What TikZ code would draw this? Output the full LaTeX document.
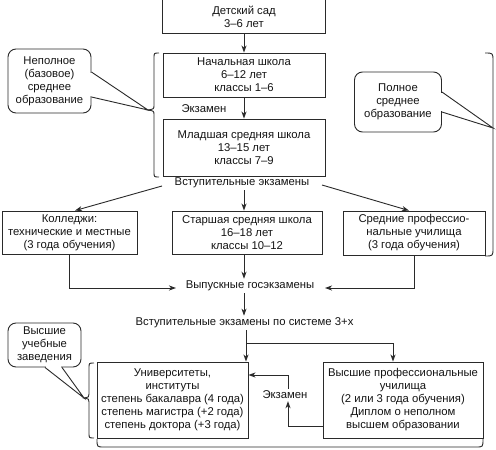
\documentclass[tikz,border=0pt]{standalone}
\usepackage{fontspec}
\setmainfont{Liberation Sans}
\usetikzlibrary{arrows.meta}
\definecolor{ln}{HTML}{2A2A2A}
\definecolor{tx}{HTML}{141414}
\tikzset{
  box/.style={draw=ln, line width=0.9pt, align=center, inner sep=0pt, text=tx, fill=white},
  lbl/.style={align=center, inner sep=2pt, text=tx},
  callout/.style={draw=ln, line width=0.9pt, rounded corners=8pt, align=center, inner sep=0pt, text=tx, fill=white},
  conn/.style={draw=ln, line width=0.9pt, -{Stealth[length=7pt,width=5pt,inset=2pt]}},
  plain/.style={draw=ln, line width=0.9pt},
}
\begin{document}
\begin{tikzpicture}[x=1pt,y=-1pt,font=\fontsize{11.3}{13}\selectfont]
\useasboundingbox (0,0) rectangle (496,450);
\fill[white] (0,0) rectangle (496,450);

% main boxes
\node[align=center, inner sep=0pt, text=tx, minimum width=162pt, minimum height=32pt] (kg) at (244,17) {Детский сад\\3–6 лет};
\draw[plain] ([yshift=5pt]kg.north west) -- (kg.south west) -- (kg.south east) -- ([yshift=5pt]kg.north east);
\node[box, minimum width=162pt, minimum height=44pt] (prim) at (244,75) {Начальная школа\\6–12 лет\\классы 1–6};
\node[box, minimum width=162pt, minimum height=57pt] (jun) at (244,147.5) {Младшая средняя школа\\13–15 лет\\классы 7–9};
\node[lbl] (ex1) at (204,109) {Экзамен};
\node[lbl] (vst) at (242,183) {Вступительные экзамены};
\node[box, minimum width=135pt, minimum height=43pt] (coll) at (69.5,232.5) {Колледжи:\\технические и местные\\(3 года обучения)};
\node[box, minimum width=150pt, minimum height=43pt] (sen) at (247,232.5) {Старшая средняя школа\\16–18 лет\\классы 10–12};
\node[box, minimum width=142pt, minimum height=44pt] (spec) at (414,233) {Средние профессио-\\нальные училища\\(3 года обучения)};
\node[lbl] (vyp) at (250,286) {Выпускные госэкзамены};
\node[lbl] (vst2) at (244.5,323) {Вступительные экзамены по системе 3+x};
\node[box, minimum width=151pt, minimum height=76pt] (univ) at (172.5,400) {Университеты,\\институты\\степень бакалавра (4 года)\\степень магистра (+2 года)\\степень доктора (+3 года)};
\node[box, minimum width=160pt, minimum height=76pt] (vpu) at (403,400) {Высшие профессиональные\\училища\\(2 или 3 года обучения)\\Диплом о неполном\\высшем образовании};
\node[lbl] (ex2) at (285,395) {Экзамен};

% callouts
\node[callout, minimum width=83pt, minimum height=64pt] (c1) at (49.5,81) {Неполное\\(базовое)\\среднее\\образование};
\node[callout, minimum width=87pt, minimum height=60pt] (c2) at (398,102) {Полное\\среднее\\образование};
\node[callout, minimum width=73pt, minimum height=44pt] (c3) at (44.5,345) {Высшие\\учебные\\заведения};

% braces
\draw[plain] (159,53) .. controls (154,53) .. (154,58) -- (154,105) .. controls (154,109) .. (148,110) .. controls (154,111) .. (154,115) -- (154,172) .. controls (154,177) .. (159,177);
\draw[plain] (485,53) .. controls (493,53) .. (493,61) -- (493,248) .. controls (493,256) .. (485,256);
\draw[plain] (94,363) .. controls (89,363) .. (89,368) -- (89,394) .. controls (89,397) .. (84,398) .. controls (89,399) .. (89,402) -- (89,433) .. controls (89,438) .. (94,438);
\draw[plain] (97,439) .. controls (97,447) .. (104,447) -- (476,447) .. controls (483,447) .. (483,439);

% callout pointers
\coordinate (t1) at (148,110);
\coordinate (t2) at (493,128);
\coordinate (t3) at (84,398);
\fill[white] (89,73) rectangle (93,96);
\draw[plain] (c1.east |- 0,72) -- (t1) -- (c1.east |- 0,97);
\fill[white] (440,93) rectangle (444,111);
\draw[plain] (c2.east |- 0,92) -- (t2) -- (c2.east |- 0,112);
\fill[white] (46,365) rectangle (61,369);
\draw[plain] (c3.south -| 45,0) -- (t3) -- (c3.south -| 62,0);

% connectors
\draw[conn] (kg.south) -- (prim.north);
\draw[conn] (prim.south) -- (jun.north);
\draw[conn] (vst.south -| kg.south) -- (sen.north -| kg.south);
\coordinate (vl) at (162,186);
\coordinate (vr) at (322,185);
\draw[conn] (vl) -- (coll.north -| 75,0);
\draw[conn] (vr) -- (spec.north -| 409,0);
\draw[conn] (sen.south -| kg.south) -- (vyp.north -| kg.south);
\coordinate (vypL) at (176,288);
\coordinate (vypR) at (325,288);
\draw[conn] (coll.south) -- (coll.south |- vypL) -- (vypL);
\draw[conn] (spec.south) -- (spec.south |- vypR) -- (vypR);
\draw[conn] (vyp.south -| kg.south) -- (vst2.north -| kg.south);
\coordinate (br) at (246,343);
\coordinate (br2) at (393,343);
\draw[conn] (vst2.south -| br) -- (univ.north -| br);
\draw[conn] (br) -- (br2) -- (vpu.north -| br2);
\coordinate (e2) at (288,426);
\coordinate (e4) at (288,375);
\draw[conn] (vpu.west |- e2) -- (e2) -- (ex2.south -| e2);
\draw[conn] (ex2.north -| e2) -- (e4) -- (univ.east |- e4);
\end{tikzpicture}
\end{document}
